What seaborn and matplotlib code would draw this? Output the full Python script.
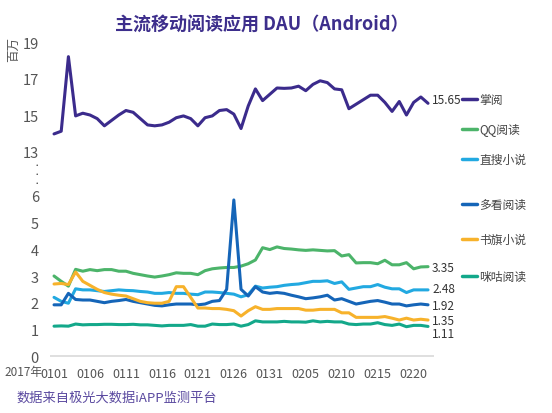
import matplotlib
matplotlib.use("Agg")
import matplotlib.pyplot as plt
from matplotlib.lines import Line2D
import seaborn as sns
import pandas as pd
import numpy as np

dates = ["01%02d" % d for d in range(1, 32)] + ["02%02d" % d for d in range(1, 23)]

zhangyue = [13.95, 14.1, 18.24, 14.95, 15.1, 15.0, 14.8, 14.4, 14.7, 15.0, 15.25, 15.15, 14.8, 14.45,
            14.4, 14.45, 14.6, 14.85, 14.95, 14.8, 14.4, 14.85, 14.95, 15.25, 15.3, 15.05, 14.25, 15.5,
            16.45, 15.8, 16.15, 16.5, 16.48, 16.5, 16.6, 16.35, 16.7, 16.9, 16.8, 16.45, 16.4, 15.35,
            15.6, 15.85, 16.1, 16.1, 15.7, 15.2, 15.75, 15.0, 15.7, 16.0, 15.65]
qq = [3.0, 2.8, 2.62, 3.25, 3.18, 3.24, 3.2, 3.24, 3.24, 3.18, 3.18, 3.1, 3.05, 3.0, 2.96, 3.0, 3.05,
      3.12, 3.1, 3.1, 3.05, 3.2, 3.27, 3.3, 3.32, 3.32, 3.37, 3.46, 3.6, 4.06, 3.99, 4.09, 4.03, 4.01,
      3.98, 3.96, 3.98, 3.96, 3.94, 3.95, 3.75, 3.8, 3.49, 3.5, 3.5, 3.46, 3.59, 3.42, 3.42, 3.5, 3.27,
      3.34, 3.35]
zhisou = [2.2, 2.05, 1.98, 2.52, 2.48, 2.48, 2.45, 2.42, 2.45, 2.48, 2.46, 2.45, 2.42, 2.4, 2.35, 2.35,
          2.38, 2.35, 2.35, 2.32, 2.3, 2.4, 2.4, 2.38, 2.35, 2.32, 2.22, 2.3, 2.62, 2.55, 2.58, 2.6, 2.65,
          2.68, 2.7, 2.75, 2.8, 2.8, 2.82, 2.72, 2.78, 2.5, 2.55, 2.6, 2.6, 2.68, 2.58, 2.52, 2.52, 2.38,
          2.48, 2.48, 2.48]
duokan = [1.92, 1.92, 2.35, 2.12, 2.1, 2.1, 2.05, 2.0, 2.05, 2.08, 2.12, 2.05, 2.0, 1.95, 1.9, 1.88,
          1.92, 1.95, 1.95, 1.95, 1.92, 1.95, 2.05, 2.08, 2.5, 5.85, 2.5, 2.25, 2.6, 2.4, 2.35, 2.38, 2.35,
          2.28, 2.22, 2.15, 2.18, 2.22, 2.28, 2.1, 2.15, 2.05, 1.95, 2.0, 2.05, 2.08, 2.02, 1.95, 1.95,
          1.88, 1.92, 1.95, 1.92]
shuqi = [2.7, 2.72, 2.68, 3.15, 2.8, 2.65, 2.5, 2.38, 2.32, 2.28, 2.25, 2.15, 2.05, 2.0, 1.98, 1.98,
         2.05, 2.6, 2.6, 2.2, 1.8, 1.8, 1.78, 1.78, 1.75, 1.7, 1.5, 1.7, 1.85, 1.75, 1.75, 1.78, 1.78,
         1.78, 1.78, 1.72, 1.72, 1.75, 1.75, 1.75, 1.62, 1.62, 1.45, 1.45, 1.45, 1.45, 1.48, 1.42, 1.35,
         1.42, 1.35, 1.38, 1.35]
migu = [1.12, 1.13, 1.12, 1.2, 1.17, 1.18, 1.18, 1.19, 1.19, 1.18, 1.18, 1.19, 1.17, 1.17, 1.15, 1.13,
        1.15, 1.15, 1.15, 1.18, 1.12, 1.12, 1.2, 1.18, 1.18, 1.2, 1.12, 1.18, 1.32, 1.28, 1.28, 1.28,
        1.3, 1.28, 1.28, 1.27, 1.32, 1.28, 1.3, 1.28, 1.28, 1.2, 1.18, 1.2, 1.2, 1.25, 1.18, 1.15, 1.2,
        1.1, 1.15, 1.15, 1.11]

names = ["掌阅", "QQ阅读", "直搜小说", "多看阅读", "书旗小说", "咪咕阅读"]
series = [zhangyue, qq, zhisou, duokan, shuqi, migu]
colors = ["#3b2b8c", "#4cb46a", "#22a9e1", "#1565b8", "#f7b22b", "#13a88a"]

sns.set_style("white")
plt.rcParams['font.family'] = ['Noto Sans CJK SC', 'DejaVu Sans']

W, H = 552, 414
fig = plt.figure(figsize=(W / 100, H / 100), dpi=100)
L, R = 50 / W, 434 / W
ax_top = fig.add_axes([L, 1 - 156 / H, R - L, 116 / H])
ax_bot = fig.add_axes([L, 1 - 360 / H, R - L, 170 / H])

x = np.arange(len(dates))
df = pd.DataFrame({"x": np.tile(x, len(names)),
                   "v": np.concatenate(series),
                   "name": np.repeat(names, len(dates))})
pal = dict(zip(names, colors))
sns.lineplot(data=df[df.name == "掌阅"], x="x", y="v", hue="name", palette=pal, lw=2.2, ax=ax_top, legend=False)
sns.lineplot(data=df[df.name != "掌阅"], x="x", y="v", hue="name", palette=pal, lw=2.2, ax=ax_bot, legend=False)

for ax in (ax_top, ax_bot):
    ax.set_xlim(-0.56, 52.83)
    for s in ax.spines.values():
        s.set_visible(False)
    ax.set_xlabel(""); ax.set_ylabel("")
    ax.tick_params(axis="y", length=0, labelsize=10.5, labelcolor="#555555", pad=8)
ax_top.set_ylim(12.78, 19.22)
ax_top.set_yticks([13, 15, 17, 19])
ax_top.set_xticks([])
ax_bot.set_ylim(-0.11, 6.26)
ax_bot.set_yticks(range(7))
ax_bot.axhline(0, color="#d9d9d9", lw=1.2)
ax_bot.set_xticks(x[::5])
ax_bot.set_xticklabels(dates[::5])
ax_bot.tick_params(axis="x", length=0, labelsize=9, labelcolor="#555555", pad=6)

fig.text(4 / W, 1 - 373 / H, "2017年", fontsize=8.5, color="#555555", ha="left", va="center")
for yy in (166, 175, 184):
    fig.text(37 / W, 1 - yy / H, "•", fontsize=4.5, color="#222222", ha="center", va="center")
fig.text(14 / W, 1 - 50 / H, "百万", fontsize=9, color="#555555", rotation=90, ha="center", va="center")
fig.text(262 / W, 1 - 25 / H, "主流移动阅读应用 DAU（Android）", fontsize=13, fontweight="bold",
         color="#3d2e8c", ha="center", va="center")
fig.text(16 / W, 1 - 398 / H, "数据来自极光大数据iAPP监测平台", fontsize=9.5, color="#5b4aa0",
         ha="left", va="center")

leg_y = [100, 130, 160, 205, 240, 277]
for n, c, yy in zip(names, colors, leg_y):
    fig.add_artist(Line2D([462 / W, 477 / W], [1 - yy / H] * 2, color=c, lw=2.5))
    fig.text(479 / W, 1 - yy / H, n, fontsize=8.5, color="#444444", ha="left", va="center")

end_y = [101, 268, 290, 307, 322, 335]
for s, yy in zip(series, end_y):
    fig.text(432 / W, 1 - yy / H, f"{s[-1]:.2f}", fontsize=8.5, color="#333333", ha="left", va="center")

fig.savefig("out.png", dpi=100)
